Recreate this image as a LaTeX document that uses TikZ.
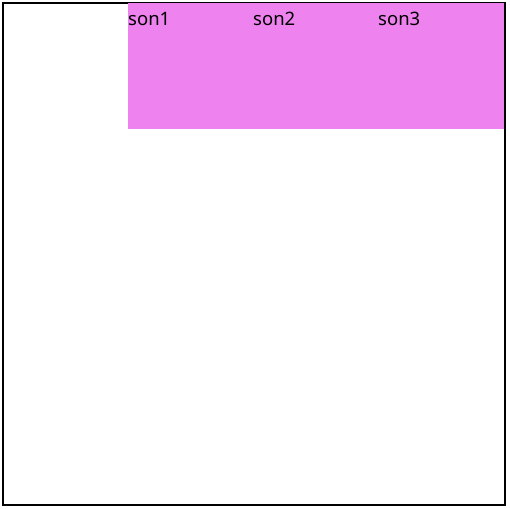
\documentclass[tikz,border=0pt]{standalone}
\usepackage{fontspec}
\setmainfont{Noto Sans}
\usetikzlibrary{positioning}
\definecolor{sonviolet}{HTML}{EE82EE}

\begin{document}
\begin{tikzpicture}[x=1pt, y=-1pt, node distance=0pt,
  frame/.style={draw, line width=2pt, minimum width=502pt, minimum height=502pt, anchor=north west, inner sep=0pt},
  son/.style={fill=sonviolet, draw=sonviolet, line width=0.4pt, minimum width=125pt, minimum height=125pt, inner sep=0pt, outer sep=0pt},
  sonlabel/.style={font=\fontsize{18.5}{20}\selectfont, inner sep=0pt, anchor=north west}]

  \useasboundingbox (0,0) rectangle (510,508);
  \node [frame] (parent) at (2,2) {};
  \node [son, anchor=north west] (son1) at (128,3.2) {};
  \node [son, right=of son1] (son2) {};
  \node [son, right=of son2] (son3) {};

  \node [sonlabel] (l1) at ([yshift=-9pt]son1.north west) {son1};
  \node [sonlabel] (l2) at ([yshift=-9pt]son2.north west) {son2};
  \node [sonlabel] (l3) at ([yshift=-9pt]son3.north west) {son3};
\end{tikzpicture}
\end{document}
